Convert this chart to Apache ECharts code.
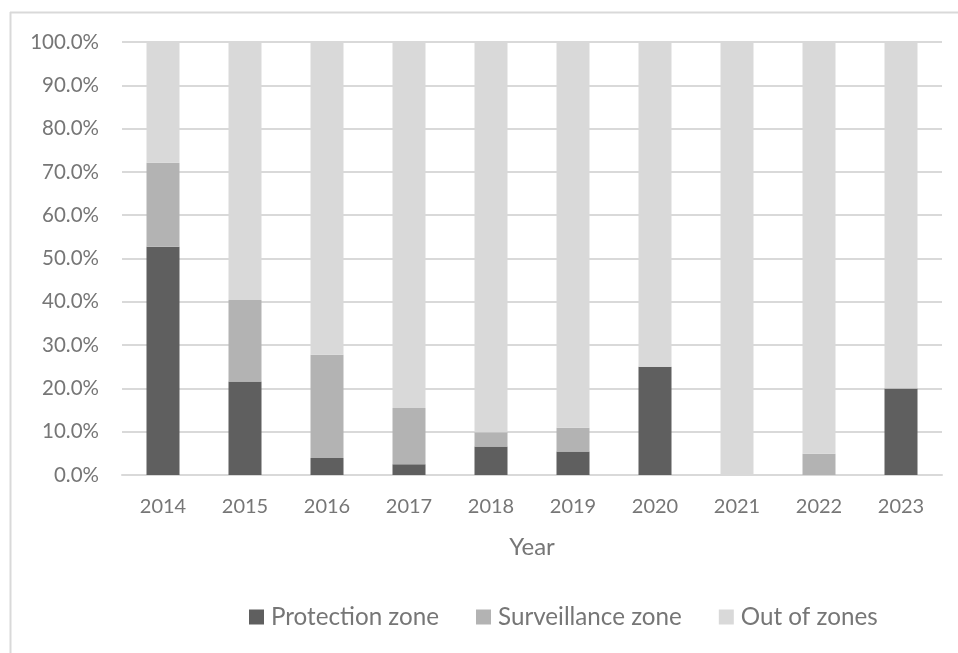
<!DOCTYPE html>
<html>
<head>
<meta charset="utf-8">
<script src="https://cdn.jsdelivr.net/npm/echarts@6/dist/echarts.min.js"></script>
<style>
html,body{margin:0;padding:0;background:#fff;}
#chart{width:958px;height:653px;}
</style>
</head>
<body>
<div id="chart"></div>
<script>
const years = ['2014','2015','2016','2017','2018','2019','2020','2021','2022','2023'];
const protectionZone = [52.7, 21.6, 3.9, 2.5, 6.6, 5.4, 25.0, 0, 0, 20.0];
const surveillanceZone = [19.4, 18.8, 23.9, 13.0, 3.3, 5.5, 0, 0, 4.9, 0];
const outOfZones = [27.9, 59.6, 72.2, 84.5, 90.1, 89.1, 75.0, 100, 95.1, 80.0];

const FONT = 'Lato';
const TXT = '#767676';
const chart = echarts.init(document.getElementById('chart'), null, {renderer: 'canvas'});
const mk = (name, data, color) => ({
  name, type: 'bar', stack: 'total', data, barWidth: 33,
  itemStyle: {color}, emphasis: {disabled: true}
});
chart.setOption({
  animation: false,
  backgroundColor: '#fff',
  textStyle: {fontFamily: FONT},
  grid: {left: 122, right: 16, top: 42, bottom: 178, containLabel: false},
  graphic: [
    {type: 'line', shape: {x1: 10, y1: 12.5, x2: 958, y2: 12.5}, style: {stroke: '#d9d9d9', lineWidth: 2}},
    {type: 'line', shape: {x1: 10.5, y1: 12, x2: 10.5, y2: 653}, style: {stroke: '#d9d9d9', lineWidth: 2}}
  ],
  legend: {
    left: 244, top: 600,
    itemWidth: 15, itemHeight: 15, itemGap: 37,
    icon: 'rect',
    textStyle: {fontFamily: FONT, fontSize: 24.2, color: TXT, padding: [0, 0, 0, 2]},
    data: ['Protection zone', 'Surveillance zone', 'Out of zones']
  },
  xAxis: {
    type: 'category', data: years,
    name: 'Year', nameLocation: 'middle', nameGap: 60,
    nameTextStyle: {fontFamily: FONT, fontSize: 24, color: TXT},
    axisLine: {lineStyle: {color: '#d9d9d9', width: 2}},
    axisTick: {show: false},
    axisLabel: {fontFamily: FONT, fontSize: 20, color: TXT, margin: 22}
  },
  yAxis: {
    type: 'value', min: 0, max: 100, interval: 10,
    axisLine: {show: false}, axisTick: {show: false},
    splitLine: {lineStyle: {color: '#d9d9d9', width: 2}},
    axisLabel: {fontFamily: FONT, fontSize: 20.5, color: TXT, margin: 23,
      formatter: v => v.toFixed(1) + '%'}
  },
  series: [
    mk('Protection zone', protectionZone, '#5f5f5f'),
    mk('Surveillance zone', surveillanceZone, '#b3b3b3'),
    mk('Out of zones', outOfZones, '#d9d9d9')
  ]
});
</script>
</body>
</html>
